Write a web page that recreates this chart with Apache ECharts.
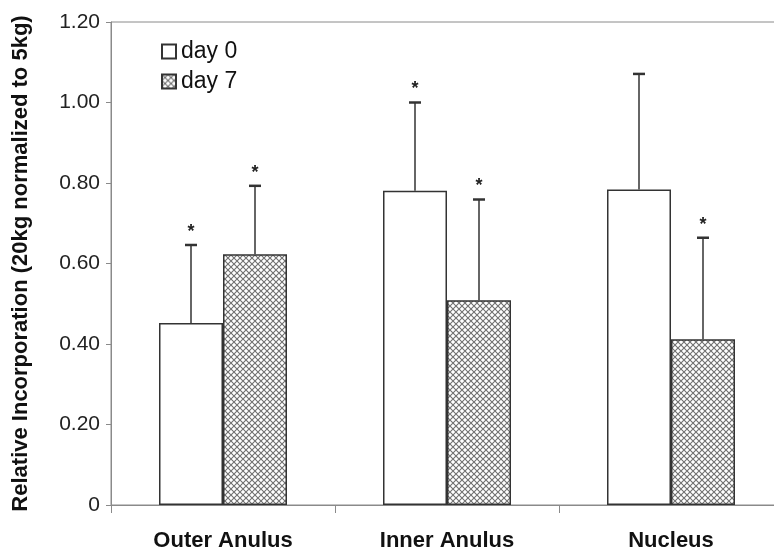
<!DOCTYPE html>
<html><head><meta charset="utf-8">
<script src="https://cdn.jsdelivr.net/npm/echarts@6/dist/echarts.min.js"></script>
<style>html,body{margin:0;padding:0;background:#fff}#c{width:774px;height:557px}</style>
</head><body><div id="c"></div>
<script>
// ---- data ----
const categories = ['Outer Anulus', 'Inner Anulus', 'Nucleus'];
const seriesNames = ['day 0', 'day 7'];
const day0 = [0.452, 0.781, 0.784];
const day7 = [0.623, 0.509, 0.412];
const day0Upper = [0.646, 1.000, 1.071];
const day7Upper = [0.793, 0.759, 0.664];
const day0Star = [true, true, false];
const day7Star = [true, true, true];
const yMin = 0, yMax = 1.2, yStep = 0.2;

// ---- styling helpers ----
const BAR_W = 64;
const FONT = 'Arial, "Liberation Sans", sans-serif';
function hatch() {
  const c = document.createElement('canvas');
  c.width = 6; c.height = 6;
  const g = c.getContext('2d');
  g.fillStyle = '#fff'; g.fillRect(0, 0, 6, 6);
  g.strokeStyle = '#707070'; g.lineWidth = 1.1;
  g.beginPath();
  g.moveTo(-1, -1); g.lineTo(7, 7);
  g.moveTo(7, -1); g.lineTo(-1, 7);
  g.stroke();
  return c;
}
const hatchFill = { image: hatch(), repeat: 'repeat' };

const errData = [];
categories.forEach((c, i) => {
  errData.push([i, day0[i], day0Upper[i], -1, day0Star[i] ? 1 : 0]);
  errData.push([i, day7[i], day7Upper[i], 1, day7Star[i] ? 1 : 0]);
});

const chart = echarts.init(document.getElementById('c'), null, { renderer: 'canvas' });
chart.setOption({
  backgroundColor: '#fff',
  animation: false,
  grid: { left: 111, top: 22, right: -9, bottom: 52, outerBoundsMode: 'none', containLabel: false,
    show: true, borderColor: '#8a8a8a', borderWidth: 1, backgroundColor: 'transparent' },
  legend: {
    data: seriesNames,
    orient: 'vertical',
    left: 156, top: 35,
    itemWidth: 14, itemHeight: 14, itemGap: 7,
    icon: 'rect',
    textStyle: { fontSize: 23, color: '#111', fontFamily: FONT, padding: [0, 0, 0, 0] }
  },
  xAxis: {
    type: 'category',
    data: categories,
    axisLine: { lineStyle: { color: '#8a8a8a', width: 1 } },
    axisTick: { show: true, length: 8, alignWithLabel: false, lineStyle: { color: '#8a8a8a' } },
    axisLabel: { fontSize: 22, fontWeight: 'bold', color: '#111', fontFamily: FONT, margin: 25 }
  },
  yAxis: {
    type: 'value', min: yMin, max: yMax, interval: yStep,
    name: 'Relative Incorporation (20kg normalized to 5kg)',
    nameLocation: 'middle', nameGap: 79,
    nameTextStyle: { fontSize: 22, fontWeight: 'bold', color: '#111', fontFamily: FONT },
    axisLine: { show: true, lineStyle: { color: '#8a8a8a', width: 1 } },
    axisTick: { show: true, length: 5, lineStyle: { color: '#8a8a8a' } },
    splitLine: { show: false },
    axisLabel: { fontSize: 21, color: '#222', fontFamily: FONT, margin: 11,
      formatter: v => v === 0 ? '0' : v.toFixed(2) }
  },
  series: [
    { name: seriesNames[0], type: 'bar', data: day0, barWidth: BAR_W, barGap: '0%',
      itemStyle: { color: '#fff', borderColor: '#333', borderWidth: 1.5 } },
    { name: seriesNames[1], type: 'bar', data: day7, barWidth: BAR_W, barGap: '0%',
      itemStyle: { color: hatchFill, borderColor: '#333', borderWidth: 1.5 } },
    { name: 'err', type: 'custom', data: errData, z: 5,
      renderItem: function (params, api) {
        const i = api.value(0);
        const base = api.coord([i, api.value(1)]);
        const top = api.coord([i, api.value(2)]);
        const x = base[0] + api.value(3) * BAR_W / 2;
        const ch = [
          { type: 'line', shape: { x1: x, y1: base[1], x2: x, y2: top[1] }, style: { stroke: '#333', lineWidth: 1.5 } },
          { type: 'line', shape: { x1: x - 6, y1: top[1], x2: x + 6, y2: top[1] }, style: { stroke: '#333', lineWidth: 2.5 } }
        ];
        if (api.value(4)) {
          ch.push({ type: 'text', x: x, y: top[1] - 4,
            style: { text: '*', fill: '#222', font: 'bold 18px Arial, "Liberation Sans", sans-serif', align: 'center', verticalAlign: 'bottom' } });
        }
        return { type: 'group', children: ch };
      }
    }
  ]
});
</script></body></html>
